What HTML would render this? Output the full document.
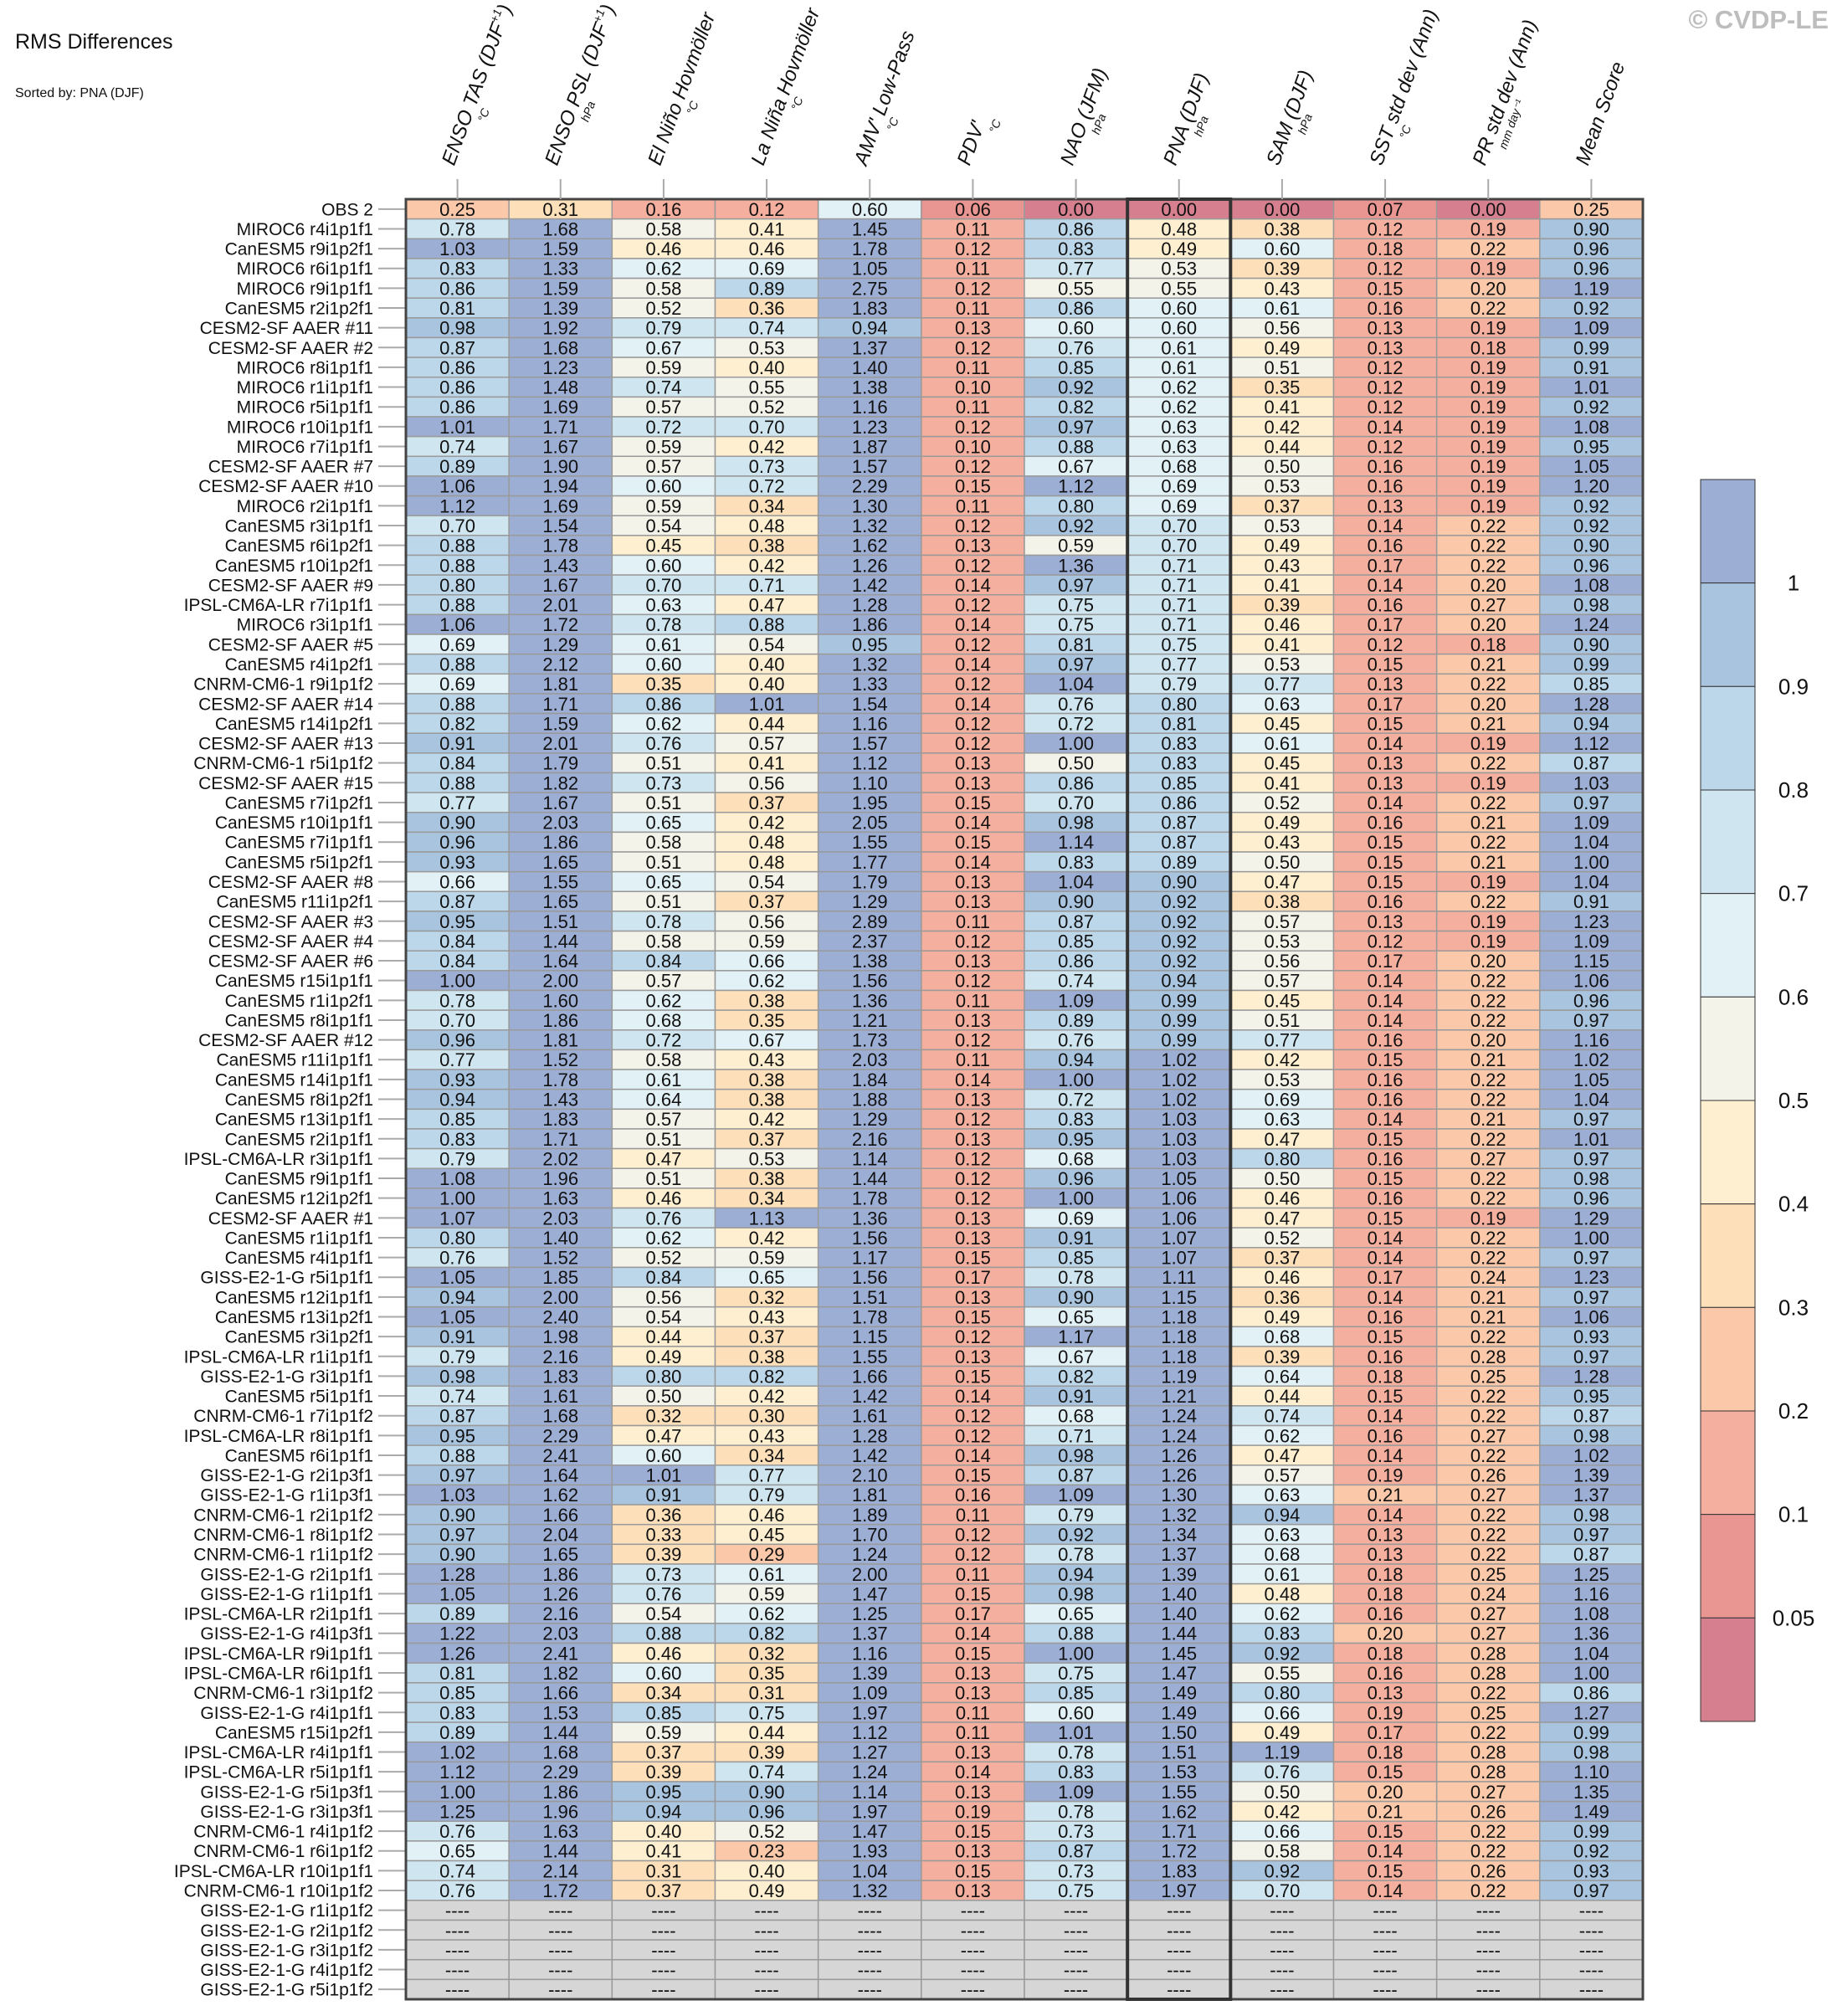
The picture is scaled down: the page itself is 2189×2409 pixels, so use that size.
<!DOCTYPE html>
<html><head><meta charset="utf-8"><style>
html,body{margin:0;padding:0;background:#fff;}
svg{display:block;font-family:"Liberation Sans",Arial,sans-serif;}
</style></head><body>
<svg id="chart" width="2189" height="2409" viewBox="0 0 2189 2409" xmlns="http://www.w3.org/2000/svg">
<text x="18" y="58" font-size="25" fill="#111">RMS Differences</text>
<text x="18" y="116" font-size="16" fill="#111">Sorted by: PNA (DJF)</text>
<text x="2185" y="34" font-size="31" font-weight="bold" fill="#bdbdbd" text-anchor="end">© CVDP-LE</text>
<g id="grid"></g><g id="heads"></g><g id="cbar"></g>
</svg>
<script>
const models=["OBS 2","MIROC6 r4i1p1f1","CanESM5 r9i1p2f1","MIROC6 r6i1p1f1","MIROC6 r9i1p1f1","CanESM5 r2i1p2f1","CESM2-SF AAER #11","CESM2-SF AAER #2","MIROC6 r8i1p1f1","MIROC6 r1i1p1f1","MIROC6 r5i1p1f1","MIROC6 r10i1p1f1","MIROC6 r7i1p1f1","CESM2-SF AAER #7","CESM2-SF AAER #10","MIROC6 r2i1p1f1","CanESM5 r3i1p1f1","CanESM5 r6i1p2f1","CanESM5 r10i1p2f1","CESM2-SF AAER #9","IPSL-CM6A-LR r7i1p1f1","MIROC6 r3i1p1f1","CESM2-SF AAER #5","CanESM5 r4i1p2f1","CNRM-CM6-1 r9i1p1f2","CESM2-SF AAER #14","CanESM5 r14i1p2f1","CESM2-SF AAER #13","CNRM-CM6-1 r5i1p1f2","CESM2-SF AAER #15","CanESM5 r7i1p2f1","CanESM5 r10i1p1f1","CanESM5 r7i1p1f1","CanESM5 r5i1p2f1","CESM2-SF AAER #8","CanESM5 r11i1p2f1","CESM2-SF AAER #3","CESM2-SF AAER #4","CESM2-SF AAER #6","CanESM5 r15i1p1f1","CanESM5 r1i1p2f1","CanESM5 r8i1p1f1","CESM2-SF AAER #12","CanESM5 r11i1p1f1","CanESM5 r14i1p1f1","CanESM5 r8i1p2f1","CanESM5 r13i1p1f1","CanESM5 r2i1p1f1","IPSL-CM6A-LR r3i1p1f1","CanESM5 r9i1p1f1","CanESM5 r12i1p2f1","CESM2-SF AAER #1","CanESM5 r1i1p1f1","CanESM5 r4i1p1f1","GISS-E2-1-G r5i1p1f1","CanESM5 r12i1p1f1","CanESM5 r13i1p2f1","CanESM5 r3i1p2f1","IPSL-CM6A-LR r1i1p1f1","GISS-E2-1-G r3i1p1f1","CanESM5 r5i1p1f1","CNRM-CM6-1 r7i1p1f2","IPSL-CM6A-LR r8i1p1f1","CanESM5 r6i1p1f1","GISS-E2-1-G r2i1p3f1","GISS-E2-1-G r1i1p3f1","CNRM-CM6-1 r2i1p1f2","CNRM-CM6-1 r8i1p1f2","CNRM-CM6-1 r1i1p1f2","GISS-E2-1-G r2i1p1f1","GISS-E2-1-G r1i1p1f1","IPSL-CM6A-LR r2i1p1f1","GISS-E2-1-G r4i1p3f1","IPSL-CM6A-LR r9i1p1f1","IPSL-CM6A-LR r6i1p1f1","CNRM-CM6-1 r3i1p1f2","GISS-E2-1-G r4i1p1f1","CanESM5 r15i1p2f1","IPSL-CM6A-LR r4i1p1f1","IPSL-CM6A-LR r5i1p1f1","GISS-E2-1-G r5i1p3f1","GISS-E2-1-G r3i1p3f1","CNRM-CM6-1 r4i1p1f2","CNRM-CM6-1 r6i1p1f2","IPSL-CM6A-LR r10i1p1f1","CNRM-CM6-1 r10i1p1f2"];
const missingModels=["GISS-E2-1-G r1i1p1f2","GISS-E2-1-G r2i1p1f2","GISS-E2-1-G r3i1p1f2","GISS-E2-1-G r4i1p1f2","GISS-E2-1-G r5i1p1f2"];
const ensoTas=[.25,.78,1.03,.83,.86,.81,.98,.87,.86,.86,.86,1.01,.74,.89,1.06,1.12,.70,.88,.88,.80,.88,1.06,.69,.88,.69,.88,.82,.91,.84,.88,.77,.90,.96,.93,.66,.87,.95,.84,.84,1.00,.78,.70,.96,.77,.93,.94,.85,.83,.79,1.08,1.00,1.07,.80,.76,1.05,.94,1.05,.91,.79,.98,.74,.87,.95,.88,.97,1.03,.90,.97,.90,1.28,1.05,.89,1.22,1.26,.81,.85,.83,.89,1.02,1.12,1.00,1.25,.76,.65,.74,.76];
const ensoPsl=[.31,1.68,1.59,1.33,1.59,1.39,1.92,1.68,1.23,1.48,1.69,1.71,1.67,1.90,1.94,1.69,1.54,1.78,1.43,1.67,2.01,1.72,1.29,2.12,1.81,1.71,1.59,2.01,1.79,1.82,1.67,2.03,1.86,1.65,1.55,1.65,1.51,1.44,1.64,2.00,1.60,1.86,1.81,1.52,1.78,1.43,1.83,1.71,2.02,1.96,1.63,2.03,1.40,1.52,1.85,2.00,2.40,1.98,2.16,1.83,1.61,1.68,2.29,2.41,1.64,1.62,1.66,2.04,1.65,1.86,1.26,2.16,2.03,2.41,1.82,1.66,1.53,1.44,1.68,2.29,1.86,1.96,1.63,1.44,2.14,1.72];
const elNino=[.16,.58,.46,.62,.58,.52,.79,.67,.59,.74,.57,.72,.59,.57,.60,.59,.54,.45,.60,.70,.63,.78,.61,.60,.35,.86,.62,.76,.51,.73,.51,.65,.58,.51,.65,.51,.78,.58,.84,.57,.62,.68,.72,.58,.61,.64,.57,.51,.47,.51,.46,.76,.62,.52,.84,.56,.54,.44,.49,.80,.50,.32,.47,.60,1.01,.91,.36,.33,.39,.73,.76,.54,.88,.46,.60,.34,.85,.59,.37,.39,.95,.94,.40,.41,.31,.37];
const laNina=[.12,.41,.46,.69,.89,.36,.74,.53,.40,.55,.52,.70,.42,.73,.72,.34,.48,.38,.42,.71,.47,.88,.54,.40,.40,1.01,.44,.57,.41,.56,.37,.42,.48,.48,.54,.37,.56,.59,.66,.62,.38,.35,.67,.43,.38,.38,.42,.37,.53,.38,.34,1.13,.42,.59,.65,.32,.43,.37,.38,.82,.42,.30,.43,.34,.77,.79,.46,.45,.29,.61,.59,.62,.82,.32,.35,.31,.75,.44,.39,.74,.90,.96,.52,.23,.40,.49];
const amv=[.60,1.45,1.78,1.05,2.75,1.83,.94,1.37,1.40,1.38,1.16,1.23,1.87,1.57,2.29,1.30,1.32,1.62,1.26,1.42,1.28,1.86,.95,1.32,1.33,1.54,1.16,1.57,1.12,1.10,1.95,2.05,1.55,1.77,1.79,1.29,2.89,2.37,1.38,1.56,1.36,1.21,1.73,2.03,1.84,1.88,1.29,2.16,1.14,1.44,1.78,1.36,1.56,1.17,1.56,1.51,1.78,1.15,1.55,1.66,1.42,1.61,1.28,1.42,2.10,1.81,1.89,1.70,1.24,2.00,1.47,1.25,1.37,1.16,1.39,1.09,1.97,1.12,1.27,1.24,1.14,1.97,1.47,1.93,1.04,1.32];
const pdv=[.06,.11,.12,.11,.12,.11,.13,.12,.11,.10,.11,.12,.10,.12,.15,.11,.12,.13,.12,.14,.12,.14,.12,.14,.12,.14,.12,.12,.13,.13,.15,.14,.15,.14,.13,.13,.11,.12,.13,.12,.11,.13,.12,.11,.14,.13,.12,.13,.12,.12,.12,.13,.13,.15,.17,.13,.15,.12,.13,.15,.14,.12,.12,.14,.15,.16,.11,.12,.12,.11,.15,.17,.14,.15,.13,.13,.11,.11,.13,.14,.13,.19,.15,.13,.15,.13];
const nao=[.00,.86,.83,.77,.55,.86,.60,.76,.85,.92,.82,.97,.88,.67,1.12,.80,.92,.59,1.36,.97,.75,.75,.81,.97,1.04,.76,.72,1.00,.50,.86,.70,.98,1.14,.83,1.04,.90,.87,.85,.86,.74,1.09,.89,.76,.94,1.00,.72,.83,.95,.68,.96,1.00,.69,.91,.85,.78,.90,.65,1.17,.67,.82,.91,.68,.71,.98,.87,1.09,.79,.92,.78,.94,.98,.65,.88,1.00,.75,.85,.60,1.01,.78,.83,1.09,.78,.73,.87,.73,.75];
const pna=[.00,.48,.49,.53,.55,.60,.60,.61,.61,.62,.62,.63,.63,.68,.69,.69,.70,.70,.71,.71,.71,.71,.75,.77,.79,.80,.81,.83,.83,.85,.86,.87,.87,.89,.90,.92,.92,.92,.92,.94,.99,.99,.99,1.02,1.02,1.02,1.03,1.03,1.03,1.05,1.06,1.06,1.07,1.07,1.11,1.15,1.18,1.18,1.18,1.19,1.21,1.24,1.24,1.26,1.26,1.30,1.32,1.34,1.37,1.39,1.40,1.40,1.44,1.45,1.47,1.49,1.49,1.50,1.51,1.53,1.55,1.62,1.71,1.72,1.83,1.97];
const sam=[.00,.38,.60,.39,.43,.61,.56,.49,.51,.35,.41,.42,.44,.50,.53,.37,.53,.49,.43,.41,.39,.46,.41,.53,.77,.63,.45,.61,.45,.41,.52,.49,.43,.50,.47,.38,.57,.53,.56,.57,.45,.51,.77,.42,.53,.69,.63,.47,.80,.50,.46,.47,.52,.37,.46,.36,.49,.68,.39,.64,.44,.74,.62,.47,.57,.63,.94,.63,.68,.61,.48,.62,.83,.92,.55,.80,.66,.49,1.19,.76,.50,.42,.66,.58,.92,.70];
const sstStd=[.07,.12,.18,.12,.15,.16,.13,.13,.12,.12,.12,.14,.12,.16,.16,.13,.14,.16,.17,.14,.16,.17,.12,.15,.13,.17,.15,.14,.13,.13,.14,.16,.15,.15,.15,.16,.13,.12,.17,.14,.14,.14,.16,.15,.16,.16,.14,.15,.16,.15,.16,.15,.14,.14,.17,.14,.16,.15,.16,.18,.15,.14,.16,.14,.19,.21,.14,.13,.13,.18,.18,.16,.20,.18,.16,.13,.19,.17,.18,.15,.20,.21,.15,.14,.15,.14];
const prStd=[.00,.19,.22,.19,.20,.22,.19,.18,.19,.19,.19,.19,.19,.19,.19,.19,.22,.22,.22,.20,.27,.20,.18,.21,.22,.20,.21,.19,.22,.19,.22,.21,.22,.21,.19,.22,.19,.19,.20,.22,.22,.22,.20,.21,.22,.22,.21,.22,.27,.22,.22,.19,.22,.22,.24,.21,.21,.22,.28,.25,.22,.22,.27,.22,.26,.27,.22,.22,.22,.25,.24,.27,.27,.28,.28,.22,.25,.22,.28,.28,.27,.26,.22,.22,.26,.22];
const meanScore=[.25,.90,.96,.96,1.19,.92,1.09,.99,.91,1.01,.92,1.08,.95,1.05,1.20,.92,.92,.90,.96,1.08,.98,1.24,.90,.99,.85,1.28,.94,1.12,.87,1.03,.97,1.09,1.04,1.00,1.04,.91,1.23,1.09,1.15,1.06,.96,.97,1.16,1.02,1.05,1.04,.97,1.01,.97,.98,.96,1.29,1.00,.97,1.23,.97,1.06,.93,.97,1.28,.95,.87,.98,1.02,1.39,1.37,.98,.97,.87,1.25,1.16,1.08,1.36,1.04,1.00,.86,1.27,.99,.98,1.10,1.35,1.49,.99,.92,.93,.97];
const columns=[ensoTas,ensoPsl,elNino,laNina,amv,pdv,nao,pna,sam,sstStd,prStd,meanScore];
const headMain=["ENSO","ENSO","El Niño","La Niña","AMV'","PDV'","NAO","PNA","SAM","SST","PR","Mean Score"];
const headRest=[" TAS (DJF"," PSL (DJF"," Hovmöller"," Hovmöller"," Low-Pass",""," (JFM)"," (DJF)"," (DJF)"," std dev (Ann)"," std dev (Ann)",""];
const headSup=["+1","+1","","","","","","","","","",""];
const units=["°C","hPa","°C","°C","°C","°C","hPa","hPa","hPa","°C","mm day⁻¹",""];
const cbLevels=[1,0.9,0.8,0.7,0.6,0.5,0.4,0.3,0.2,0.1,0.05];
const cbLabels=["1","0.9","0.8","0.7","0.6","0.5","0.4","0.3","0.2","0.1","0.05"];
const cbColors=["#9daed4","#a9c4de","#bdd7ea","#cfe6f0","#e2f1f5","#f3f3ea","#fdefd0","#fde0b9","#fbc9a9","#f4af9e","#e99592","#d6808f"];

const NS="http://www.w3.org/2000/svg";
function mk(tag,attrs,parent){const e=document.createElementNS(NS,tag);for(const k in attrs)e.setAttribute(k,attrs[k]);parent.appendChild(e);return e;}
const X0=485,X1=1963,Y0=238,Y1=2389;
const nRows=models.length+missingModels.length,nCols=columns.length;
const cw=(X1-X0)/nCols,rh=(Y1-Y0)/nRows;
const xCol=i=>X0+i*cw, yRow=r=>Y0+r*rh;
function colorFor(v){for(let i=0;i<cbLevels.length;i++){if(v>=cbLevels[i])return cbColors[i];}return cbColors[cbColors.length-1];}
const grid=document.getElementById('grid');
for(let r=0;r<nRows;r++){
  const missing=r>=models.length;
  const name=missing?missingModels[r-models.length]:models[r];
  const yc=yRow(r)+rh/2;
  const lab=mk('text',{x:446,y:yc+7.5,'font-size':21,'text-anchor':'end',fill:'#111'},grid);
  lab.textContent=name;
  
  
  const tk=mk('line',{x1:452,x2:X0,y1:yc,y2:yc,stroke:'#aaa','stroke-width':2},grid);
  
  
  for(let c=0;c<nCols;c++){
    const v=missing?null:columns[c][r];
    const rc=mk('rect',{x:xCol(c),y:yRow(r),width:cw,height:rh,fill:missing?'#d6d6d6':colorFor(v),stroke:'#9a9a9a','stroke-width':1.5},grid);
    
    
    const t=mk('text',{x:xCol(c)+cw/2,y:yc+8,'font-size':22,'text-anchor':'middle',fill:'#111'},grid);
    t.textContent=missing?'----':v.toFixed(2);
    
    
  }
}
const ob=mk('rect',{x:X0,y:Y0,width:X1-X0,height:Y1-Y0,fill:'none',stroke:'#444','stroke-width':3},grid);


const pb=mk('rect',{x:xCol(7),y:Y0,width:cw,height:Y1-Y0,fill:'none',stroke:'#333','stroke-width':4},grid);


const heads=document.getElementById('heads');
for(let c=0;c<nCols;c++){
  const cx=xCol(c)+cw/2;
  const tl=mk('line',{x1:cx,x2:cx,y1:214,y2:Y0,stroke:'#aaa','stroke-width':2},heads);
  
  
  const g=mk('g',{transform:`translate(${cx-4},199) rotate(-70)`},heads);
  
  
  const t=mk('text',{x:0,y:0,'font-size':24,'font-style':'italic',fill:'#111'},g);
  const s1=mk('tspan',{},t);s1.textContent=headMain[c];
  const w=s1.getComputedTextLength();
  const s2=mk('tspan',{},t);s2.textContent=headRest[c];
  if(headSup[c]){const s3=mk('tspan',{'font-size':14,dy:-10},t);s3.textContent=headSup[c];const s4=mk('tspan',{dy:10},t);s4.textContent=')';}
  if(units[c]){const u=mk('text',{x:w-6,y:17,'font-size':14,'font-style':'italic',fill:'#111'},g);u.textContent=units[c];}
}
const cb=document.getElementById('cbar');
const CX=2032,CW=65,CY0=573,CY1=2057,ch=(CY1-CY0)/cbColors.length;
for(let i=0;i<cbColors.length;i++){
  const r=mk('rect',{x:CX,y:CY0+i*ch,width:CW,height:ch,fill:cbColors[i],stroke:'#333','stroke-width':1},cb);
  
  
}
for(let i=0;i<cbLabels.length;i++){
  const t=mk('text',{x:2143,y:CY0+(i+1)*ch+9,'font-size':26,'text-anchor':'middle',fill:'#111'},cb);
  t.textContent=cbLabels[i];
  
  
}
</script>
</body></html>
